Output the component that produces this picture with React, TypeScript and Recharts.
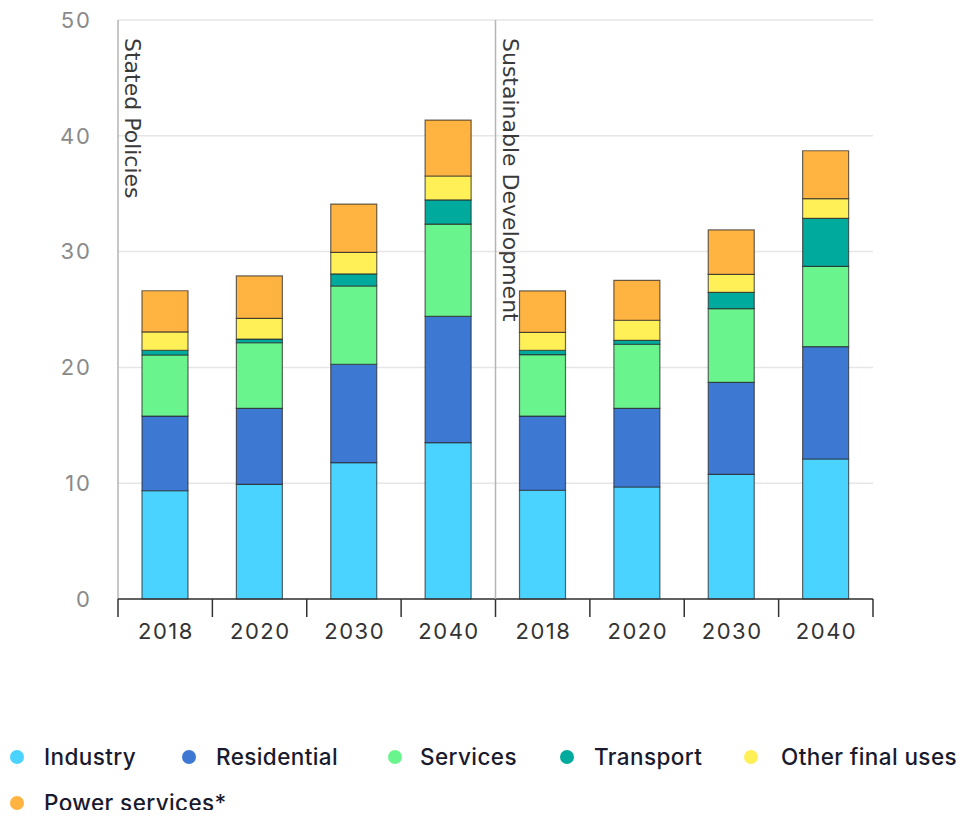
import React from "react";
import { BarChart, Bar, XAxis, YAxis, CartesianGrid } from "recharts";

// ---- data ----
const categories = ["SP-2018", "SP-2020", "SP-2030", "SP-2040", "SD-2018", "SD-2020", "SD-2030", "SD-2040"];
const yearLabels = ["2018", "2020", "2030", "2040", "2018", "2020", "2030", "2040"];
const scenarioLabels = ["Stated Policies", "Sustainable Development"];
const industry = [9.35, 9.9, 11.77, 13.5, 9.39, 9.67, 10.77, 12.09];
const residential = [6.45, 6.57, 8.5, 10.9, 6.41, 6.8, 7.94, 9.7];
const services = [5.27, 5.66, 6.76, 7.98, 5.3, 5.53, 6.36, 6.94];
const transport = [0.41, 0.32, 1.04, 2.08, 0.38, 0.34, 1.41, 4.14];
const otherFinal = [1.58, 1.79, 1.87, 2.07, 1.55, 1.73, 1.56, 1.7];
const power = [3.56, 3.66, 4.16, 4.83, 3.57, 3.45, 3.83, 4.14];
const yTicks = [0, 10, 20, 30, 40, 50];

const seriesDefs = [
  { key: "industry", name: "Industry", color: "#4AD3FF", values: industry },
  { key: "residential", name: "Residential", color: "#3D78D2", values: residential },
  { key: "services", name: "Services", color: "#6AF48E", values: services },
  { key: "transport", name: "Transport", color: "#00AA9C", values: transport },
  { key: "other", name: "Other final uses", color: "#FFF058", values: otherFinal },
  { key: "power", name: "Power services*", color: "#FFB340", values: power },
];

const data = categories.map((c, i) => {
  const row: any = { cat: c };
  seriesDefs.forEach((s) => (row[s.key] = s.values[i]));
  return row;
});

// ---- layout ----
const W = 940;
const H = 640;
const PLOT_LEFT = 110;
const PLOT_RIGHT = 865;
const PLOT_TOP = 12;
const PLOT_BOTTOM = 591;
const STEP = (PLOT_RIGHT - PLOT_LEFT) / categories.length;
const FONT = "Inter, 'Noto Sans', sans-serif";

const XTick = (props: any) => {
  const { x, payload } = props;
  const index = payload && payload.index != null ? payload.index : props.index;
  const left = x - STEP / 2;
  const right = x + STEP / 2;
  return (
    <g>
      <line x1={left} x2={left} y1={PLOT_BOTTOM} y2={PLOT_BOTTOM + 18} stroke="#333" strokeWidth={1.5} />
      {index === categories.length - 1 && (
        <line x1={right} x2={right} y1={PLOT_BOTTOM} y2={PLOT_BOTTOM + 18} stroke="#333" strokeWidth={1.5} />
      )}
      {index === 4 && (
        <line x1={left} x2={left} y1={PLOT_TOP} y2={PLOT_BOTTOM} stroke="#b5b5b5" strokeWidth={1.5} />
      )}
      {(index === 0 || index === 4) && (
        <text
          x={left + 7}
          y={PLOT_TOP + 18}
          transform={`rotate(90 ${left + 7} ${PLOT_TOP + 18})`}
          fontFamily="'DejaVu Sans', sans-serif"
          fontSize={22}
          fill="#3a3a3a"
          textAnchor="start"
        >
          {scenarioLabels[index === 0 ? 0 : 1]}
        </text>
      )}
      <text
        x={x + 0.75}
        y={PLOT_BOTTOM + 40}
        textAnchor="middle"
        fontFamily={FONT}
        fontSize={22}
        letterSpacing={1.5}
        fill="#333"
      >
        {yearLabels[index]}
      </text>
    </g>
  );
};

const legendPos = [
  { cx: 17, tx: 44, cy: 757 },
  { cx: 189, tx: 216, cy: 757 },
  { cx: 395, tx: 420, cy: 757 },
  { cx: 567, tx: 594, cy: 757 },
  { cx: 751, tx: 781, cy: 757 },
  { cx: 17, tx: 44, cy: 803 },
];

export default function App() {
  return (
    <div style={{ position: "relative", width: 948, height: 802 }}>
      <BarChart
        width={W}
        height={H}
        data={data}
        margin={{ top: PLOT_TOP, right: W - PLOT_RIGHT, left: 0, bottom: H - PLOT_BOTTOM - 40 }}
        barSize={46}
      >
        <CartesianGrid vertical={false} stroke="#e6e6e6" strokeWidth={1.5} />
        <YAxis
          width={PLOT_LEFT}
          domain={[0, 50]}
          ticks={yTicks}
          interval={0}
          tickLine={false}
          tickSize={0}
          tickMargin={26}
          axisLine={{ stroke: "#b5b5b5", strokeWidth: 1.5 }}
          tick={{ fill: "#8a8a8a", fontSize: 22, fontFamily: FONT, letterSpacing: 2 }}
        />
        <XAxis
          dataKey="cat"
          height={40}
          interval={0}
          tickLine={false}
          axisLine={{ stroke: "#333", strokeWidth: 1.5 }}
          tick={<XTick />}
        />
        {seriesDefs.map((s) => (
          <Bar
            key={s.key}
            dataKey={s.key}
            name={s.name}
            stackId="a"
            fill={s.color}
            stroke="rgba(40,40,40,0.7)"
            strokeWidth={1.2}
            isAnimationActive={false}
          />
        ))}
      </BarChart>
      {seriesDefs.map((s, i) => (
        <React.Fragment key={s.key}>
          <div
            style={{
              position: "absolute",
              left: legendPos[i].cx - 8 - 7,
              top: legendPos[i].cy - 8 - 7,
              width: 14,
              height: 14,
              borderRadius: 7,
              background: s.color,
            }}
          />
          <div
            style={{
              position: "absolute",
              left: legendPos[i].tx - 8,
              top: legendPos[i].cy - 8 - 14,
              fontFamily: FONT,
              fontSize: 22.5,
              fontWeight: 500,
              letterSpacing: 0.4,
              lineHeight: "28px",
              color: "#1a1a2e",
              whiteSpace: "nowrap",
            }}
          >
            {s.name}
          </div>
        </React.Fragment>
      ))}
    </div>
  );
}
